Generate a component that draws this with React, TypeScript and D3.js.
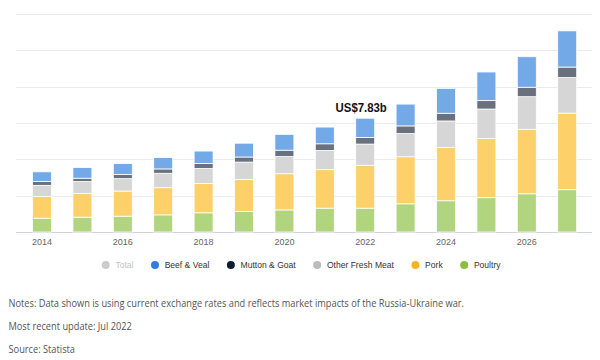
import * as d3 from "d3";
import React, { useEffect, useRef } from "react";

const years = [2014, 2015, 2016, 2017, 2018, 2019, 2020, 2021, 2022, 2023, 2024, 2025, 2026, 2027];
const poultry = [0.95, 1.02, 1.09, 1.18, 1.32, 1.41, 1.52, 1.64, 1.64, 1.94, 2.15, 2.36, 2.63, 2.91];
const pork = [1.5, 1.64, 1.73, 1.87, 2.01, 2.2, 2.49, 2.65, 2.95, 3.24, 3.67, 4.07, 4.44, 5.27];
const otherFreshMeat = [0.76, 0.81, 0.85, 0.99, 1.04, 1.2, 1.18, 1.32, 1.46, 1.59, 1.82, 2.03, 2.24, 2.45];
const muttonGoat = [0.26, 0.23, 0.28, 0.3, 0.35, 0.35, 0.44, 0.46, 0.46, 0.53, 0.53, 0.58, 0.65, 0.72];
const beefVeal = [0.67, 0.74, 0.76, 0.78, 0.85, 0.95, 1.09, 1.15, 1.32, 1.5, 1.71, 1.97, 2.1, 2.49];

const yTicks = [0, 2.5, 5, 7.5, 10, 12.5, 15];
const xTickLabels = [2014, 2016, 2018, 2020, 2022, 2024, 2026];
const legendLabels = ["Total", "Beef & Veal", "Mutton & Goat", "Other Fresh Meat", "Pork", "Poultry"];
const annotationYear = 2022;
const notes = [
  "Notes: Data shown is using current exchange rates and reflects market impacts of the Russia-Ukraine war.",
  "Most recent update: Jul 2022",
  "Source: Statista",
];

// squeeze text horizontally a little, the source picture is narrower than the fonts we have
function squeeze(sel: any, k: number) {
  sel.each(function (this: SVGTextElement) {
    const w = this.getComputedTextLength();
    d3.select(this).attr("textLength", w * k).attr("lengthAdjust", "spacingAndGlyphs");
  });
}

export default function App() {
  const ref = useRef<SVGSVGElement>(null);

  useEffect(() => {
    const width = 600;
    const height = 360;
    const margin = { top: 14, right: 8, bottom: 128, left: 16 };
    const baseY = height - margin.bottom;

    const svg = d3.select(ref.current);
    svg.selectAll("*").remove();
    svg.attr("width", width).attr("height", height);

    const keys = ["poultry", "pork", "other", "mutton", "beef"];
    const barColors: Record<string, string> = {
      poultry: "#b1d57f",
      pork: "#fdd06a",
      other: "#d6d6d6",
      mutton: "#68717d",
      beef: "#74a9e8",
    };
    const rows = years.map((year, i) => ({
      year,
      poultry: poultry[i],
      pork: pork[i],
      other: otherFreshMeat[i],
      mutton: muttonGoat[i],
      beef: beefVeal[i],
    }));
    const series = d3.stack<any>().keys(keys)(rows);

    const x = d3
      .scaleBand<number>()
      .domain(years)
      .range([21.6, 587.6])
      .paddingInner(0.53)
      .paddingOuter(0.27);
    const y = d3.scaleLinear().domain([0, 15]).range([baseY, margin.top]);

    // grid
    svg
      .append("g")
      .selectAll("line")
      .data(yTicks)
      .join("line")
      .attr("x1", margin.left)
      .attr("x2", width - margin.right)
      .attr("y1", (d) => Math.round(y(d)) + 0.5)
      .attr("y2", (d) => Math.round(y(d)) + 0.5)
      .attr("stroke", (d) => (d === 0 ? "#cfd3d8" : "#ebebeb"))
      .attr("stroke-width", 1);

    // bars
    svg
      .append("g")
      .selectAll("g")
      .data(series)
      .join("g")
      .attr("fill", (s) => barColors[s.key])
      .selectAll("rect")
      .data((s) => s)
      .join("rect")
      .attr("x", (d: any) => x(d.data.year)!)
      .attr("width", x.bandwidth())
      .attr("y", (d) => y(d[1]))
      .attr("height", (d) => y(d[0]) - y(d[1]))
      .attr("stroke", "#fff")
      .attr("stroke-width", 0.8);

    // x axis labels
    svg
      .append("g")
      .selectAll("text")
      .data(xTickLabels)
      .join("text")
      .attr("x", (d) => x(d)! + x.bandwidth() / 2)
      .attr("y", baseY + 13)
      .attr("text-anchor", "middle")
      .attr("font-family", "'Liberation Sans', Arial, sans-serif")
      .attr("font-size", 9)
      .attr("fill", "#666")
      .text((d) => d);

    // annotation
    const ai = years.indexOf(annotationYear);
    const total = poultry[ai] + pork[ai] + otherFreshMeat[ai] + muttonGoat[ai] + beefVeal[ai];
    const ann = svg
      .append("text")
      .attr("x", x(annotationYear)! + x.bandwidth() / 2 - 4)
      .attr("y", y(total) - 6)
      .attr("text-anchor", "middle")
      .attr("font-family", "'Liberation Sans', Arial, sans-serif")
      .attr("font-weight", "bold")
      .attr("font-size", 12.5)
      .attr("fill", "#111")
      .text("US$" + total.toFixed(2) + "b");
    squeeze(ann, 0.91);

    // legend
    const dotColors = ["#cccccc", "#2f7ddf", "#0f1e2d", "#bbbbbb", "#fdb220", "#8bbe3d"];
    const legend = svg.append("g").attr("transform", `translate(0,265)`);
    let lx = 105.7;
    legendLabels.forEach((label, i) => {
      const item = legend.append("g");
      item.append("circle").attr("cx", lx).attr("cy", 0).attr("r", 4).attr("fill", dotColors[i]);
      const t = item
        .append("text")
        .attr("x", lx + 9.7)
        .attr("y", 3.4)
        .attr("font-family", "'Liberation Sans', Arial, sans-serif")
        .attr("font-size", 9.5)
        .attr("fill", i === 0 ? "#c4c4c4" : "#333")
        .text(label);
      const w = (t.node() as SVGTextElement).getComputedTextLength() * 0.9;
      squeeze(t, 0.9);
      lx = lx + 9.7 + w + 21.5;
    });

    // notes
    const noteText = svg
      .append("g")
      .selectAll("text")
      .data(notes)
      .join("text")
      .attr("x", 8.5)
      .attr("y", (d, i) => 306.5 + i * 23.3)
      .attr("font-family", "'Open Sans', sans-serif")
      .attr("font-size", 10.5)
      .attr("fill", "#555")
      .text((d) => d);
    squeeze(noteText, 0.88);
  }, []);

  return (
    <div style={{ position: "absolute", left: 0, top: 0, width: 600, height: 360, background: "#fff" }}>
      <svg ref={ref} style={{ display: "block" }}></svg>
    </div>
  );
}
